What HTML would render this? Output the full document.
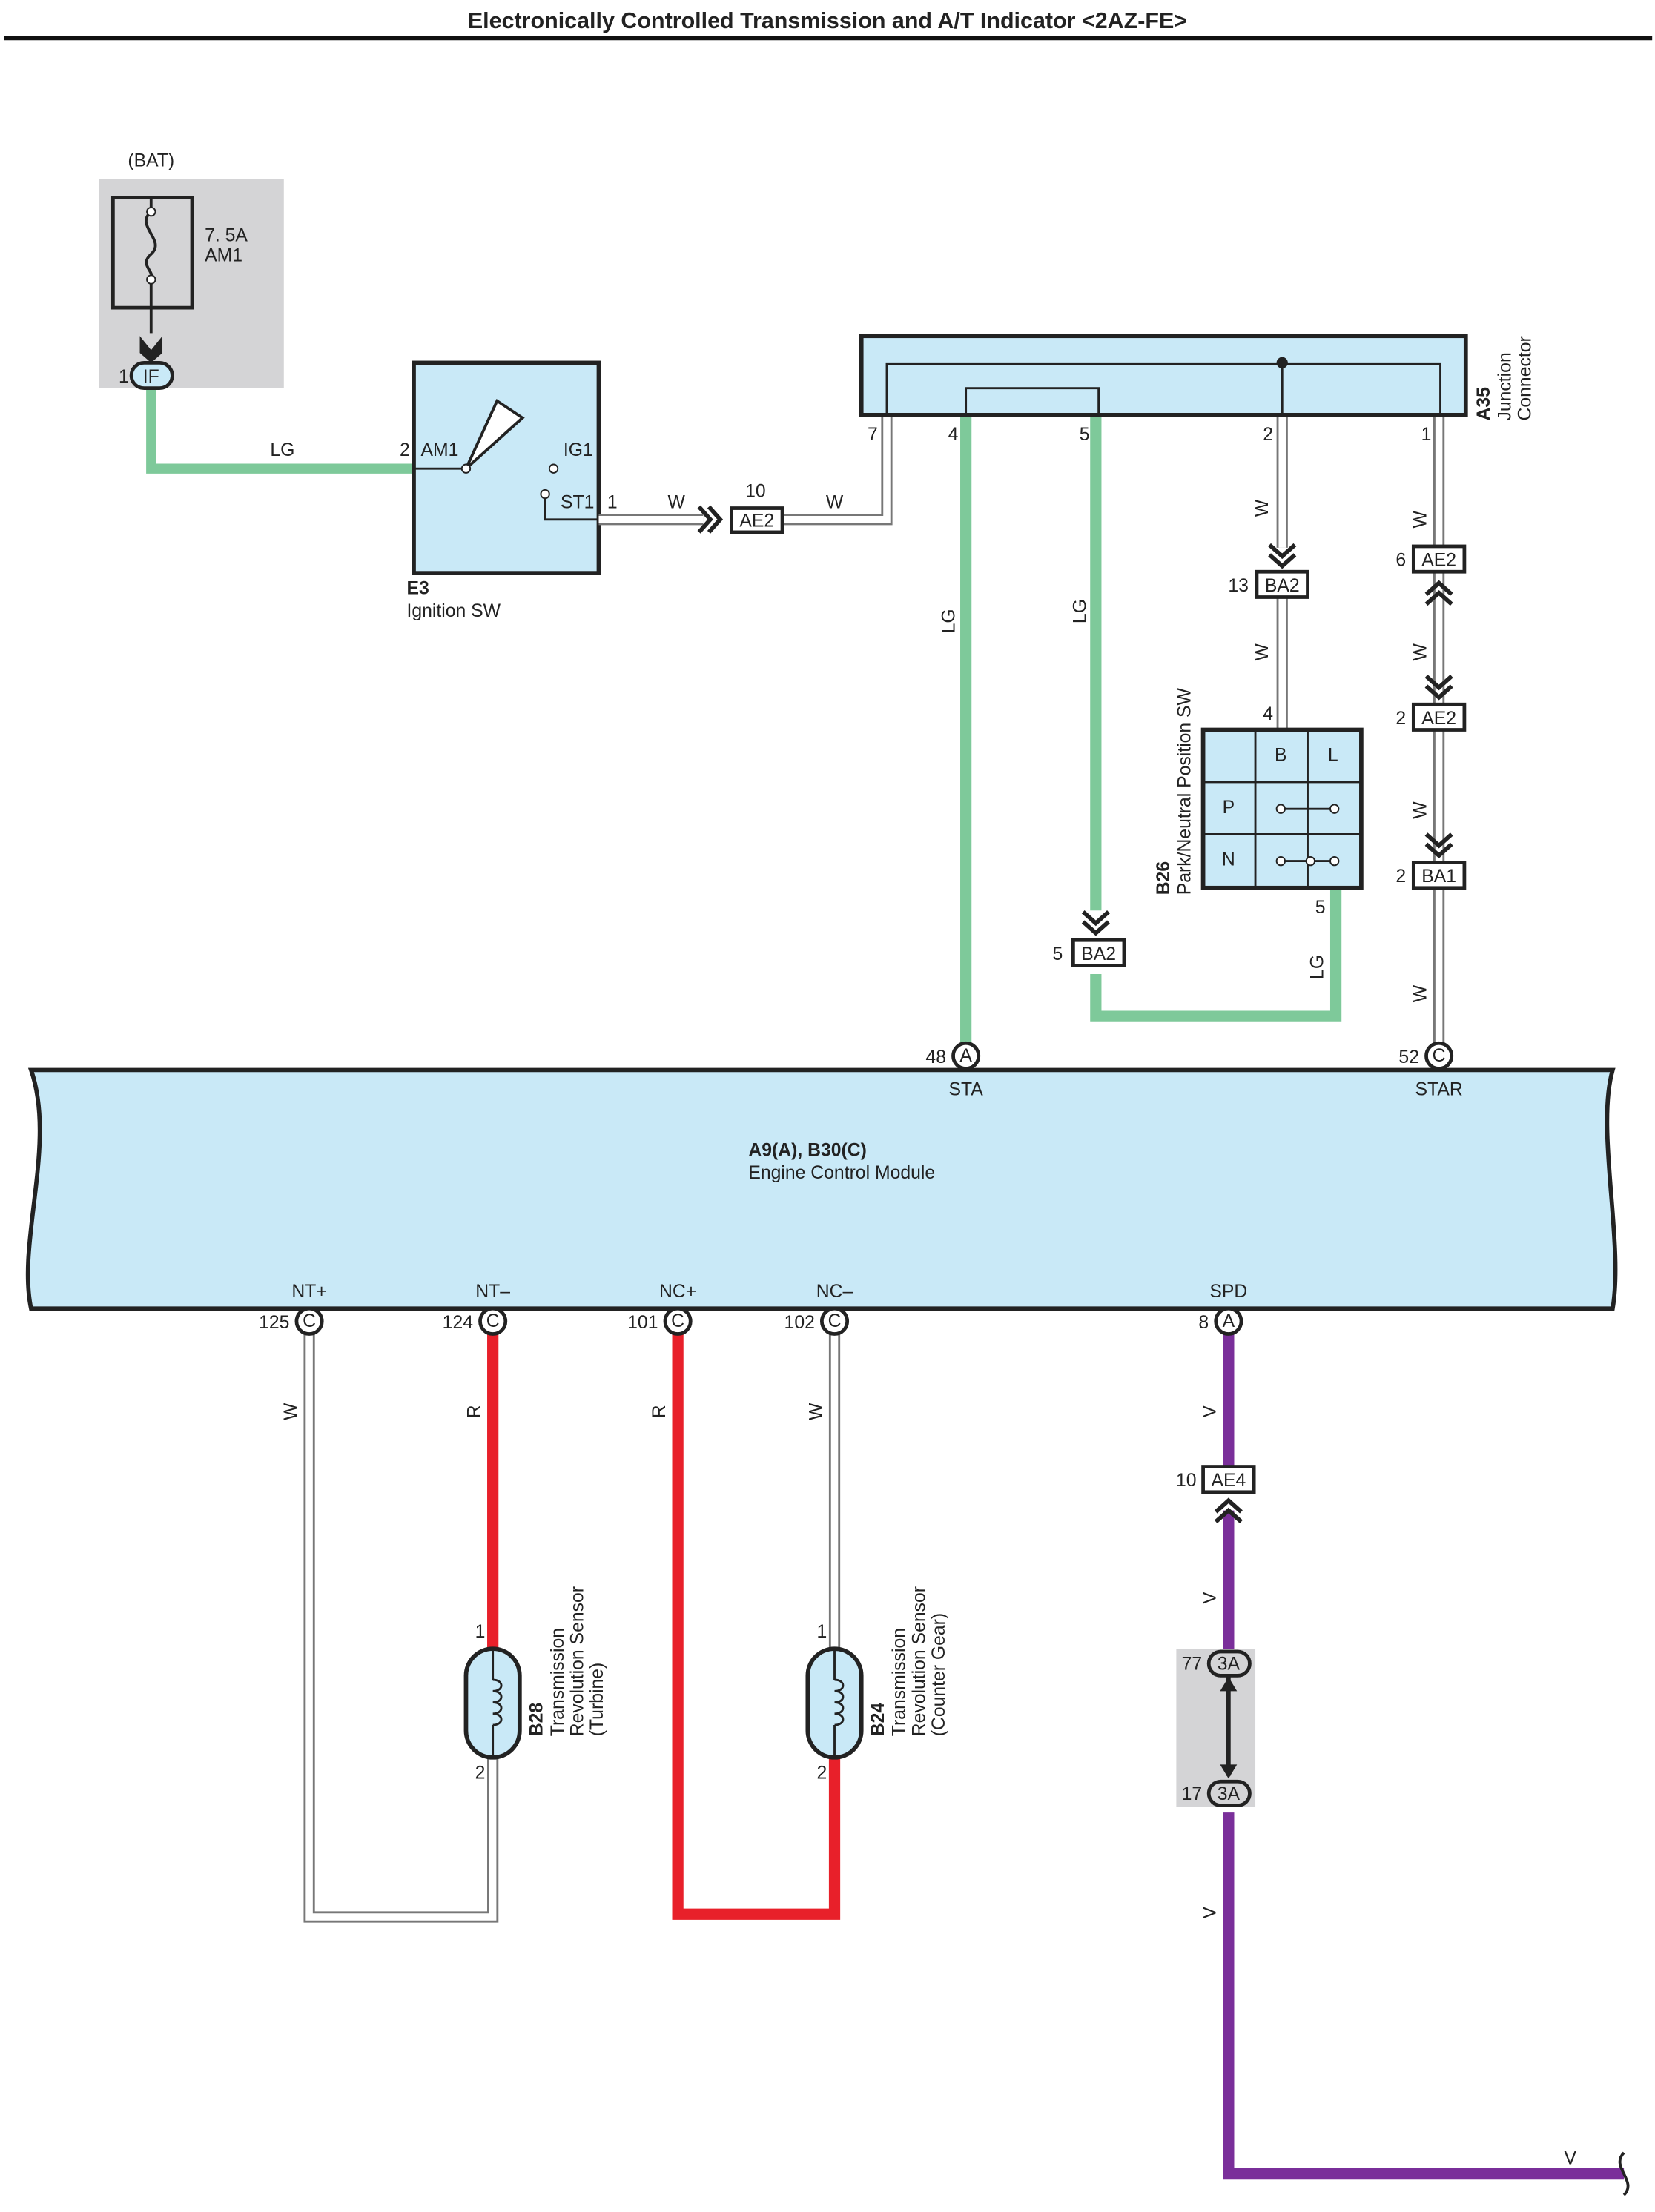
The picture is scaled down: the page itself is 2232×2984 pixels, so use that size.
<!DOCTYPE html>
<html><head><meta charset="utf-8"><style>
html,body{margin:0;padding:0;background:#fff}
svg{display:block}
text{font-family:"Liberation Sans",sans-serif;font-size:13px;fill:#222}
.b{font-weight:bold}
</style></head><body>
<svg width="2232" height="2984" viewBox="0 0 1172 1567" preserveAspectRatio="none" xmlns="http://www.w3.org/2000/svg">
<defs>
<g id="chevD"><path d="M-9,-10 L0,-2 L9,-10 M-9,-3 L0,5 L9,-3" fill="none" stroke="#222" stroke-width="3"/></g>
<g id="chevU"><path d="M-9,10 L0,2 L9,10 M-9,3 L0,-5 L9,3" fill="none" stroke="#222" stroke-width="3"/></g>
</defs>
<text x="586" y="20" text-anchor="middle" class="b" style="font-size:16px">Electronically Controlled Transmission and A/T Indicator &lt;2AZ-FE&gt;</text>
<line x1="3" y1="27" x2="1170" y2="27" stroke="#111" stroke-width="3"/>

<!-- BAT -->
<rect x="70" y="127" width="131" height="148" fill="#d4d4d6"/>
<text x="107" y="118" text-anchor="middle">(BAT)</text>
<rect x="80" y="140" width="56" height="78" fill="none" stroke="#222" stroke-width="2.5"/>
<path d="M107,140 V150 M107,198 V236" stroke="#222" stroke-width="2"/>
<path d="M107,150 C95,160 118,170 107,180 C98,188 110,192 107,198" fill="none" stroke="#222" stroke-width="2"/>
<circle cx="107" cy="150" r="3" fill="#fff" stroke="#222"/><circle cx="107" cy="198" r="3" fill="#fff" stroke="#222"/>
<text x="145" y="171">7. 5A</text><text x="145" y="185">AM1</text>
<path d="M99,238 L107,248 L115,238 V250 L107,257 L99,250Z" fill="#222"/>
<!-- LG wire -->
<path d="M107,276 V332 H293" fill="none" stroke="#7ec99a" stroke-width="7"/>
<rect x="93" y="257" width="29" height="18" rx="9" fill="#c9e9f7" stroke="#222" stroke-width="2.5"/>
<text x="107" y="271" text-anchor="middle">IF</text><text x="84" y="271">1</text>
<text x="200" y="323" text-anchor="middle">LG</text>

<!-- Ignition SW -->
<rect x="293" y="257" width="131" height="149" fill="#c9e9f7" stroke="#222" stroke-width="3"/>
<text x="283" y="323">2</text><text x="298" y="323">AM1</text><text x="399" y="323">IG1</text><text x="397" y="360">ST1</text><text x="430" y="360">1</text>
<line x1="293" y1="332" x2="330" y2="332" stroke="#222" stroke-width="1.5"/>
<path d="M330,332 L352,284 L370,296 Z" fill="#fff" stroke="#222" stroke-width="2"/>
<circle cx="330" cy="332" r="3" fill="#fff" stroke="#222"/>
<circle cx="392" cy="332" r="3" fill="#fff" stroke="#222"/>
<circle cx="386" cy="350" r="3" fill="#fff" stroke="#222"/>
<path d="M386,353 V368 H424" fill="none" stroke="#222" stroke-width="1.5"/>
<text x="288" y="421" class="b">E3</text><text x="288" y="437">Ignition SW</text>

<g fill="none" stroke-linejoin="miter">
<!-- W wires double -->
<g stroke="#777" stroke-width="8">
<path d="M424,368 H498 M554,368 H628 V295"/>
<path d="M908,295 V388 M908,423 V516"/>
<path d="M1019,295 V388 M1019,405 V500 M1019,517 V611 M1019,628 V740"/>
<path d="M219,945 V1358 H349 V1245"/>
<path d="M591,945 V1168"/>
</g>
<g stroke="#fff" stroke-width="5">
<path d="M424,368 H498 M554,368 H628 V295"/>
<path d="M908,295 V388 M908,423 V516"/>
<path d="M1019,295 V388 M1019,405 V500 M1019,517 V611 M1019,628 V740"/>
<path d="M219,945 V1358 H349 V1245"/>
<path d="M591,945 V1168"/>
</g>
<!-- green -->
<path d="M684,295 V740 M776,295 V645 M776,690 V720 H946 V630" stroke="#7ec99a" stroke-width="8"/>
<!-- red -->
<path d="M349,945 V1168 M480,945 V1356 H591 V1245" stroke="#e8202a" stroke-width="8"/>
<!-- purple -->
<path d="M870,945 V1040 M870,1070 V1172 M870,1284 V1540 H1150" stroke="#7a2f9a" stroke-width="8"/>
</g>
<path d="M1150,1525 C1140,1535 1160,1545 1150,1555" fill="none" stroke="#222" stroke-width="2"/>

<!-- AE2 ign -->
<use href="#chevD" transform="translate(505,368) rotate(-90)"/>
<rect x="518" y="360" width="36" height="17" fill="#fff" stroke="#222" stroke-width="2.5"/>
<text x="536" y="373" text-anchor="middle">AE2</text><text x="535" y="352" text-anchor="middle">10</text>
<text x="479" y="360" text-anchor="middle">W</text><text x="591" y="360" text-anchor="middle">W</text>

<!-- Junction connector -->
<rect x="610" y="238" width="428" height="56" fill="#c9e9f7" stroke="#222" stroke-width="3"/>
<path d="M628,294 V258 H1020 V294" fill="none" stroke="#222" stroke-width="1.5"/>
<path d="M684,294 V275 H778 V294" fill="none" stroke="#222" stroke-width="1.5"/>
<line x1="908" y1="258" x2="908" y2="294" stroke="#222" stroke-width="1.5"/>
<circle cx="908" cy="257" r="4" fill="#222"/>
<text x="618" y="312" text-anchor="middle">7</text><text x="675" y="312" text-anchor="middle">4</text><text x="768" y="312" text-anchor="middle">5</text><text x="898" y="312" text-anchor="middle">2</text><text x="1010" y="312" text-anchor="middle">1</text>
<text transform="translate(1055,298) rotate(-90)" class="b">A35</text>
<text transform="translate(1070,298) rotate(-90)">Junction</text>
<text transform="translate(1084,298) rotate(-90)">Connector</text>

<!-- vertical labels -->
<g>
<text transform="translate(676,440) rotate(-90)" text-anchor="middle">LG</text>
<text transform="translate(769,433) rotate(-90)" text-anchor="middle">LG</text>
<text transform="translate(898,360) rotate(-90)" text-anchor="middle">W</text>
<text transform="translate(898,462) rotate(-90)" text-anchor="middle">W</text>
<text transform="translate(1010,368) rotate(-90)" text-anchor="middle">W</text>
<text transform="translate(1010,462) rotate(-90)" text-anchor="middle">W</text>
<text transform="translate(1010,574) rotate(-90)" text-anchor="middle">W</text>
<text transform="translate(1010,704) rotate(-90)" text-anchor="middle">W</text>
<text transform="translate(937,685) rotate(-90)" text-anchor="middle">LG</text>
<text transform="translate(210,1000) rotate(-90)" text-anchor="middle">W</text>
<text transform="translate(340,1000) rotate(-90)" text-anchor="middle">R</text>
<text transform="translate(471,1000) rotate(-90)" text-anchor="middle">R</text>
<text transform="translate(582,1000) rotate(-90)" text-anchor="middle">W</text>
<text transform="translate(861,1000) rotate(-90)" text-anchor="middle">V</text>
<text transform="translate(861,1132) rotate(-90)" text-anchor="middle">V</text>
<text transform="translate(861,1355) rotate(-90)" text-anchor="middle">V</text>
</g>
<text x="1112" y="1533" text-anchor="middle">V</text>

<!-- BA2 13 -->
<use href="#chevD" transform="translate(908,396)"/>
<rect x="890" y="405" width="36" height="18" fill="#fff" stroke="#222" stroke-width="2.5"/>
<text x="908" y="419" text-anchor="middle">BA2</text><text x="877" y="419" text-anchor="middle">13</text>
<text x="898" y="510" text-anchor="middle">4</text>
<!-- AE2 6 -->
<rect x="1001" y="387" width="36" height="18" fill="#fff" stroke="#222" stroke-width="2.5"/>
<text x="1019" y="401" text-anchor="middle">AE2</text><text x="992" y="401" text-anchor="middle">6</text>
<use href="#chevU" transform="translate(1019,418)"/>
<use href="#chevD" transform="translate(1019,489)"/>
<rect x="1001" y="499" width="36" height="18" fill="#fff" stroke="#222" stroke-width="2.5"/>
<text x="1019" y="513" text-anchor="middle">AE2</text><text x="992" y="513" text-anchor="middle">2</text>
<use href="#chevD" transform="translate(1019,601)"/>
<rect x="1001" y="611" width="36" height="18" fill="#fff" stroke="#222" stroke-width="2.5"/>
<text x="1019" y="625" text-anchor="middle">BA1</text><text x="992" y="625" text-anchor="middle">2</text>
<!-- BA2 5 -->
<use href="#chevD" transform="translate(776,656)"/>
<rect x="760" y="666" width="36" height="18" fill="#fff" stroke="#222" stroke-width="2.5"/>
<text x="778" y="680" text-anchor="middle">BA2</text><text x="749" y="680" text-anchor="middle">5</text>

<!-- B26 -->
<rect x="852" y="517" width="112" height="112" fill="#c9e9f7" stroke="#222" stroke-width="3"/>
<path d="M889,517 V629 M926,517 V629 M852,554 H964 M852,591 H964" stroke="#222" stroke-width="1.5"/>
<text x="907" y="539" text-anchor="middle">B</text><text x="944" y="539" text-anchor="middle">L</text>
<text x="870" y="576" text-anchor="middle">P</text><text x="870" y="613" text-anchor="middle">N</text>
<path d="M907,573 H945 M907,610 H945" stroke="#222" stroke-width="1.5"/>
<circle cx="907" cy="573" r="3" fill="#fff" stroke="#222"/><circle cx="945" cy="573" r="3" fill="#fff" stroke="#222"/>
<circle cx="907" cy="610" r="3" fill="#fff" stroke="#222"/><circle cx="928" cy="610" r="3" fill="#fff" stroke="#222"/><circle cx="945" cy="610" r="3" fill="#fff" stroke="#222"/>
<text x="935" y="647" text-anchor="middle">5</text>
<text transform="translate(828,634) rotate(-90)" class="b">B26</text>
<text transform="translate(843,634) rotate(-90)">Park/Neutral Position SW</text>

<!-- ECM -->
<path d="M22,758 H1142 C1130,800 1150,880 1142,927 H22 C12,880 40,810 22,758Z" fill="#c9e9f7" stroke="#222" stroke-width="3"/>
<text x="530" y="819" class="b">A9(A), B30(C)</text>
<text x="530" y="835">Engine Control Module</text>
<g text-anchor="middle">
<text x="684" y="776">STA</text><text x="1019" y="776">STAR</text>
<text x="219" y="919">NT+</text><text x="349" y="919">NT–</text><text x="480" y="919">NC+</text><text x="591" y="919">NC–</text><text x="870" y="919">SPD</text>
</g>
<g stroke="#222" stroke-width="2.5" fill="#fff">
<circle cx="684" cy="748" r="9"/><circle cx="1019" cy="748" r="9"/>
<circle cx="219" cy="936" r="9"/><circle cx="349" cy="936" r="9"/><circle cx="480" cy="936" r="9"/><circle cx="591" cy="936" r="9"/><circle cx="870" cy="936" r="9"/>
</g>
<g text-anchor="middle" style="font-size:12px">
<text x="684" y="752">A</text><text x="1019" y="752">C</text>
<text x="219" y="940">C</text><text x="349" y="940">C</text><text x="480" y="940">C</text><text x="591" y="940">C</text><text x="870" y="940">A</text>
</g>
<g text-anchor="end">
<text x="670" y="753">48</text><text x="1005" y="753">52</text>
<text x="205" y="941">125</text><text x="335" y="941">124</text><text x="466" y="941">101</text><text x="577" y="941">102</text><text x="856" y="941">8</text>
</g>

<!-- sensors -->
<g>
<rect x="330" y="1168" width="38" height="77" rx="19" fill="#c9e9f7" stroke="#222" stroke-width="3"/>
<path d="M349,1168 V1190 M349,1222 V1245" stroke="#222" stroke-width="1.5"/>
<path d="M349,1190 c8,0 8,8 0,8 c8,0 8,8 0,8 c8,0 8,8 0,8 c8,0 8,8 0,8" fill="none" stroke="#222" stroke-width="1.5"/>
<text x="340" y="1160" text-anchor="middle">1</text><text x="340" y="1260" text-anchor="middle">2</text>
<text transform="translate(384,1230) rotate(-90)" class="b">B28</text>
<text transform="translate(399,1230) rotate(-90)">Transmission</text>
<text transform="translate(413,1230) rotate(-90)">Revolution Sensor</text>
<text transform="translate(427,1230) rotate(-90)">(Turbine)</text>

<rect x="572" y="1168" width="38" height="77" rx="19" fill="#c9e9f7" stroke="#222" stroke-width="3"/>
<path d="M591,1168 V1190 M591,1222 V1245" stroke="#222" stroke-width="1.5"/>
<path d="M591,1190 c8,0 8,8 0,8 c8,0 8,8 0,8 c8,0 8,8 0,8 c8,0 8,8 0,8" fill="none" stroke="#222" stroke-width="1.5"/>
<text x="582" y="1160" text-anchor="middle">1</text><text x="582" y="1260" text-anchor="middle">2</text>
<text transform="translate(626,1230) rotate(-90)" class="b">B24</text>
<text transform="translate(641,1230) rotate(-90)">Transmission</text>
<text transform="translate(655,1230) rotate(-90)">Revolution Sensor</text>
<text transform="translate(669,1230) rotate(-90)">(Counter Gear)</text>
</g>

<!-- AE4 -->
<rect x="852" y="1039" width="36" height="18" fill="#fff" stroke="#222" stroke-width="2.5"/>
<text x="870" y="1053" text-anchor="middle">AE4</text><text x="840" y="1053" text-anchor="middle">10</text>
<use href="#chevU" transform="translate(870,1068)"/>
<!-- 3A -->
<rect x="833" y="1168" width="56" height="112" fill="#d4d4d6"/>
<line x1="870" y1="1188" x2="870" y2="1258" stroke="#222" stroke-width="3"/>
<path d="M864,1198 L870,1188 L876,1198Z M864,1250 L870,1260 L876,1250Z" fill="#222"/>
<rect x="856" y="1170" width="29" height="17" rx="8.5" fill="#d4d4d6" stroke="#222" stroke-width="2.5"/>
<text x="870" y="1183" text-anchor="middle">3A</text><text x="844" y="1183" text-anchor="middle">77</text>
<rect x="856" y="1262" width="29" height="17" rx="8.5" fill="#d4d4d6" stroke="#222" stroke-width="2.5"/>
<text x="870" y="1275" text-anchor="middle">3A</text><text x="844" y="1275" text-anchor="middle">17</text>
</svg>
</body></html>
